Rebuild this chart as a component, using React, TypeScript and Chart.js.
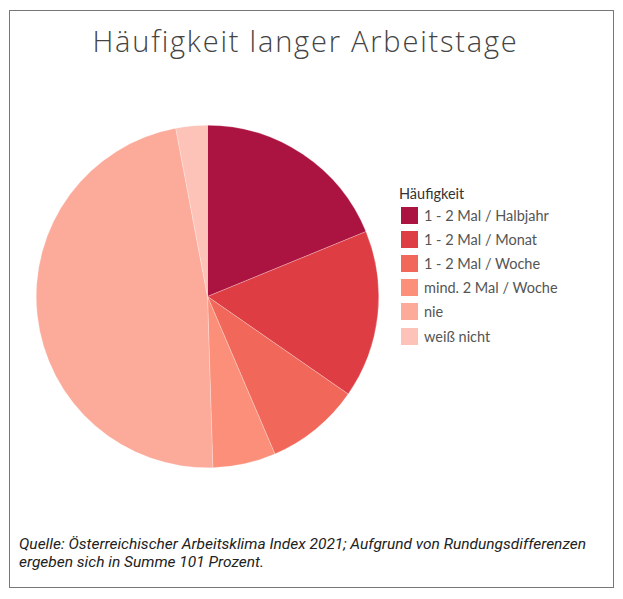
import { useEffect, useRef } from "react";
import Chart from "chart.js/auto";

// Häufigkeit langer Arbeitstage (Prozent, Summe 101 wegen Rundung)
const categories = [
  "1 - 2 Mal / Halbjahr",
  "1 - 2 Mal / Monat",
  "1 - 2 Mal / Woche",
  "mind. 2 Mal / Woche",
  "nie",
  "weiß nicht",
];
const values = [19, 16, 9, 6, 48, 3];
const colors = ["#ab1340", "#de3d44", "#f1685a", "#fb8f7a", "#fcaa9a", "#fdc3b8"];

const PieChart = () => {
  const canvasRef = useRef<HTMLCanvasElement>(null);

  useEffect(() => {
    if (!canvasRef.current) return;
    const ctx = canvasRef.current.getContext("2d");
    if (!ctx) return;

    const chart = new Chart(ctx, {
      type: "pie",
      data: {
        labels: categories,
        datasets: [
          {
            data: values,
            backgroundColor: colors,
            borderColor: "rgba(255,255,255,0.5)",
            borderWidth: 0.5,
          },
        ],
      },
      options: {
        responsive: true,
        maintainAspectRatio: false,
        animation: false,
        layout: { padding: 0 },
        plugins: {
          legend: { display: false },
          tooltip: { enabled: false },
        },
      },
    });

    return () => chart.destroy();
  }, []);

  return (
    <div style={{ position: "absolute", left: 26, top: 114, width: 343, height: 343 }}>
      <canvas ref={canvasRef}></canvas>
    </div>
  );
};

const App = () => {
  return (
    <div
      style={{
        position: "relative",
        width: 605,
        height: 578,
        marginLeft: 1,
        marginTop: 2,
        border: "1px solid #777",
        boxSizing: "border-box",
        background: "#fff",
        fontFamily: "Lato, 'Open Sans', sans-serif",
      }}
    >
      <div
        style={{
          position: "absolute",
          left: 0,
          right: 12,
          top: 10,
          textAlign: "center",
          fontSize: 29,
          fontWeight: 300,
          color: "#444",
          fontFamily: "'Open Sans', sans-serif",
          letterSpacing: 1.8,
        }}
      >
        Häufigkeit langer Arbeitstage
      </div>

      <PieChart />

      <div style={{ position: "absolute", left: 389, top: 173, color: "#333", fontSize: 14.5 }}>
        <div style={{ height: 19, lineHeight: "20px" }}>Häufigkeit</div>
        {categories.map((label, i) => (
          <div key={i} style={{ display: "flex", alignItems: "center", height: 24.2 }}>
            <span
              style={{
                display: "inline-block",
                width: 17,
                height: 17,
                marginLeft: 2,
                marginRight: 6,
                backgroundColor: colors[i],
              }}
            ></span>
            <span style={{ color: "#555" }}>{label}</span>
          </div>
        ))}
      </div>

      <div
        style={{
          position: "absolute",
          left: 9,
          top: 524,
          fontSize: 15.5,
          lineHeight: "18px",
          fontStyle: "italic",
          color: "#222",
          fontFamily: "Roboto, sans-serif",
        }}
      >
        Quelle: Österreichischer Arbeitsklima Index 2021; Aufgrund von Rundungsdifferenzen
        <br />
        ergeben sich in Summe 101 Prozent.
      </div>
    </div>
  );
};

export default App;
